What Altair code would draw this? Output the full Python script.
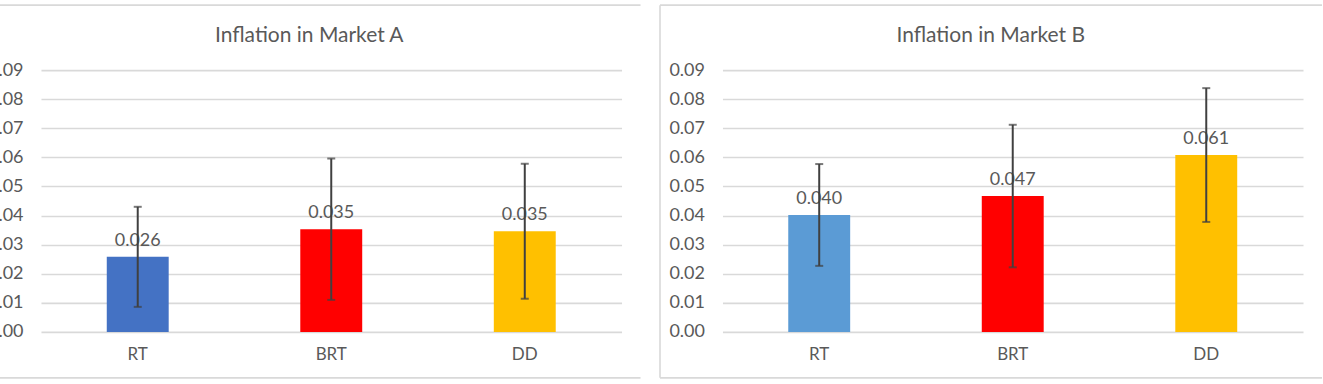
import altair as alt
import pandas as pd

categories = ["RT", "BRT", "DD"]
values_a = [0.0258, 0.0353, 0.0346]
errors_a = [0.0172, 0.0243, 0.0232]
values_b = [0.0402, 0.0467, 0.0608]
errors_b = [0.0175, 0.0245, 0.0230]
colors_a = ["#4472C4", "#FF0000", "#FFC000"]
colors_b = ["#5B9BD5", "#FF0000", "#FFC000"]
titles = ["Inflation in Market A", "Inflation in Market B"]
y_ticks = [0.00, 0.01, 0.02, 0.03, 0.04, 0.05, 0.06, 0.07, 0.08, 0.09]

W, H = 581, 262
FONT = "Lato"
TXT = "#595959"
GRID = "#d9d9d9"
ERR = "#404040"


def panel(values, errors, colors, title, bx0, bx1, left_line):
    df = pd.DataFrame({
        "cat": categories,
        "value": values,
        "lo": [v - e for v, e in zip(values, errors)],
        "hi": [v + e for v, e in zip(values, errors)],
    })
    base = alt.Chart(df)
    x = alt.X("cat:N", sort=categories,
              scale=alt.Scale(paddingInner=0.68, paddingOuter=0.34),
              axis=alt.Axis(title=None, labelAngle=0, labelPadding=15, domain=False,
                            ticks=False, grid=False, labelFont=FONT, labelFontSize=17,
                            labelColor=TXT))
    yscale = alt.Scale(domain=[0, 0.09], nice=False)
    yaxis = alt.Axis(title=None, values=y_ticks, format=".2f", grid=True,
                     gridColor=GRID, gridWidth=1.6, domain=False, ticks=False,
                     labelPadding=18, labelFont=FONT, labelFontSize=18,
                     labelColor=TXT, labelOverlap=False)
    bars = base.mark_bar().encode(
        x=x,
        y=alt.Y("value:Q", scale=yscale, axis=yaxis),
        color=alt.Color("cat:N", scale=alt.Scale(domain=categories, range=colors),
                        legend=None),
    )
    labels = base.mark_text(dy=-11, baseline="alphabetic", fontSize=18, font=FONT,
                            color=TXT).encode(
        x=x, y=alt.Y("value:Q", scale=yscale, axis=yaxis),
        text=alt.Text("value:Q", format=".3f"))
    rule = base.mark_rule(color=ERR, strokeWidth=2).encode(
        x=x, y=alt.Y("lo:Q", scale=yscale, axis=yaxis), y2="hi:Q")
    cap_hi = base.mark_tick(color=ERR, size=8, thickness=2).encode(
        x=x, y=alt.Y("hi:Q", scale=yscale, axis=yaxis))
    cap_lo = base.mark_tick(color=ERR, size=8, thickness=2).encode(
        x=x, y=alt.Y("lo:Q", scale=yscale, axis=yaxis))

    one = alt.Data(values=[{"k": 0}])
    top = alt.Chart(one).mark_rule(color=GRID, strokeWidth=1.6).encode(
        x=alt.value(bx0), x2=alt.value(bx1), y=alt.value(-65))
    bottom = alt.Chart(one).mark_rule(color=GRID, strokeWidth=1.6).encode(
        x=alt.value(bx0), x2=alt.value(bx1), y=alt.value(308))
    ttl = alt.Chart(one).mark_text(font=FONT, fontSize=21, color=TXT,
                                   baseline="alphabetic", align="center").encode(
        x=alt.value(W / 2 - 22), y=alt.value(-28), text=alt.value(title))
    layers = [top, bottom, ttl]
    if left_line:
        layers.append(alt.Chart(one).mark_rule(color=GRID, strokeWidth=1.6).encode(
            x=alt.value(bx0), y=alt.value(-65), y2=alt.value(308)))

    return alt.layer(bars, labels, rule, cap_hi, cap_lo, *layers).properties(
        width=W, height=H,
    )


left = panel(values_a, errors_a, colors_a, titles[0], -60, 600, False)
right = panel(values_b, errors_b, colors_b, titles[1], -62.5, 600, True)

chart = alt.hconcat(left, right, spacing=101, bounds="flush").properties(
    padding={"left": -20, "top": 4, "right": 0, "bottom": 0}
).configure_view(stroke=None).resolve_scale(color="independent")

chart.save("out.html", embed_options={"renderer": "svg", "actions": False})
